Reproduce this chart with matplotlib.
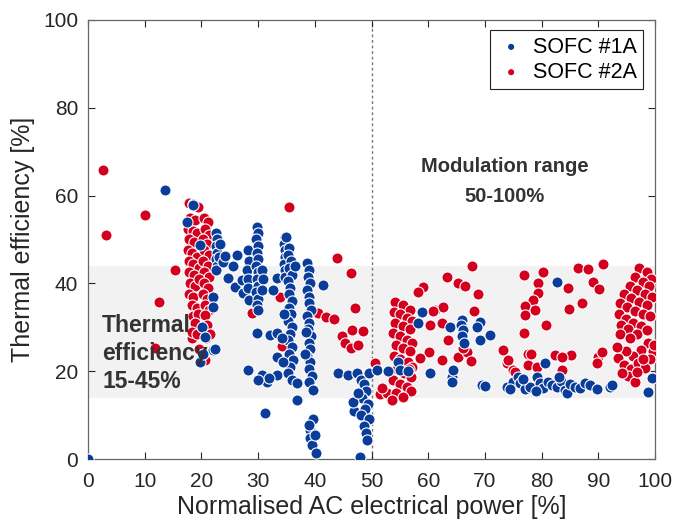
import numpy as np
import matplotlib.pyplot as plt

plt.rcParams["font.family"] = ["Liberation Sans", "DejaVu Sans"]

# ── Data ──────────────────────────────────────────────────────────────────────
# SOFC #1A  (normalised AC power [%], thermal efficiency [%])
sofc_1a = [
    (0, 0), (13.6, 61.2),
    # around 20 %
    (18.5, 57.9), (17.5, 54), (19.8, 48.7), (22, 36.9), (22, 34.6), (20.1, 30),
    (20.6, 27.8), (22, 24.8), (19.8, 22.1), (20.3, 24), (22.4, 25),
    (22.6, 51.5), (22.7, 50), (22.5, 48.5), (22.8, 47), (22.6, 45.5), (22.8, 44),
    (22.5, 43), (23.3, 49), (23.1, 46),
    # 24 - 34 %
    (23.8, 44.9), (26.3, 46.5), (24.7, 41.2), (26, 39.2), (27.2, 40.8), (27.3, 37.8),
    (24.2, 46.2), (25.5, 44),
    (28.2, 47.6), (28.4, 45), (28.1, 43), (28.3, 41), (28.2, 39), (28.4, 36.2),
    (29.8, 52.8), (29.9, 51.5), (29.7, 50), (30, 48.5), (29.8, 47), (29.9, 45.5),
    (29.7, 44), (30, 42.5), (29.8, 41), (29.9, 39.5), (29.7, 38), (30, 36.5),
    (29.8, 35), (29.9, 34),
    (30.7, 43), (30.8, 41), (30.6, 38.5), (32.6, 38.5), (33.3, 41.2),
    (34.7, 50.5), (34.6, 49), (34.8, 47.5), (34.7, 46), (34.5, 44.5), (34.8, 43),
    (34.7, 41.5),
    (29.8, 28.7), (32.1, 28.2), (33.3, 28.7), (33.3, 23.2), (28.2, 20.3), (30.7, 19.1),
    (31.6, 17.5), (33.3, 19.1), (31.2, 10.5), (32, 18.5), (30, 18),
    # 35 - 40 %
    (35, 50.6), (35.5, 48), (35.2, 46.5), (35.8, 45), (35.4, 43.5), (36, 42),
    (35.3, 40.5), (35.7, 39), (35.4, 37.5), (36, 36), (35.5, 34.5), (35.8, 33),
    (35.3, 31.5), (36, 30), (35.6, 28.5), (35.2, 27), (35.9, 25.5), (35.4, 24),
    (36.2, 22.5), (35.7, 21), (35.3, 19.5), (36, 18), (36.8, 17.3), (34.2, 27.5),
    (34.4, 22), (36.8, 13.4), (34.6, 33), (36.5, 44),
    (38.6, 44.6), (39, 43), (38.8, 41.5), (39.2, 40), (38.7, 38.5), (39, 37),
    (38.9, 35.5), (39.3, 34), (38.7, 32.5), (39, 31), (38.8, 29.5), (39.4, 28),
    (38.9, 26.5), (39.1, 25), (38.6, 23.5), (39.2, 22), (38.9, 20.5), (39.5, 19),
    (39, 17.5), (39.7, 15.7), (38.2, 24), (38.4, 29),
    (41.5, 39.6), (44.1, 19.6), (45.9, 19.1),
    (39.7, 9.1), (39.2, 6.6), (39.2, 4.8), (39.5, 3.2), (40.2, 1.4), (39, 7.8), (40, 5.5),
    # 47 - 50 %
    (47.5, 19.6), (48.2, 18), (48.7, 17), (49, 15.5), (48.4, 14), (49.3, 12.5),
    (47, 11), (48.8, 11.5), (48.1, 10), (49.5, 9), (48.6, 7.5), (49, 6), (49.2, 4.3),
    (46.8, 13), (47.6, 15), (49.6, 19.5), (48, 0.5),
    # modulation range
    (51, 20.3), (52.9, 20), (54.7, 22), (55, 20.3), (56.4, 20), (58.9, 33.5),
    (58.2, 31), (60.3, 19.6), (64.2, 18.7), (64.4, 20.3), (64.2, 17.5), (63.8, 30),
    (66, 31.7), (65.8, 30.5), (66.2, 29.3), (65.9, 28), (66.3, 26.5), (69.1, 31.2),
    (69.1, 27), (70.9, 28.2), (68.6, 30), (69.5, 16.9), (70, 16.6), (73.9, 16.4),
    (75, 17.5), (75.8, 18.7), (76.2, 17.3), (77, 16), (78, 16.4), (79.2, 18.7),
    (79.7, 17.3), (80.6, 21.9), (80.3, 16.2), (81.2, 17.5), (81.8, 16.8), (82.7, 16.4),
    (82.7, 40.3), (83.5, 17.8), (84.1, 15.7), (84.5, 15), (85, 17), (85.8, 16.5),
    (86.8, 16.2), (87.6, 17.2), (88.5, 16.9), (89.8, 15.9), (92, 16.4), (92.4, 16.9),
    (99.5, 18.5), (98.8, 15.3), (74.5, 16), (76.8, 18.2), (83, 18.6), (79, 15.6),
]

# SOFC #2A
sofc_2a = [
    (2.6, 65.8), (3.2, 51), (10, 55.6), (15.4, 43), (12.6, 35.8), (11.8, 25.3),
    # around 20 %
    (17.8, 58.3), (18.6, 58), (19.4, 57.5), (18, 55), (18.9, 54.5), (20.4, 55),
    (21.2, 54), (17.6, 52.5), (18.5, 52), (19.2, 51.5), (20.6, 52.3), (21.3, 51),
    (17.9, 50), (18.7, 49.5), (20.3, 50), (21, 49), (17.7, 47.5), (18.4, 47),
    (19.3, 46), (20.5, 47.5), (21.4, 46.5), (17.9, 45), (18.6, 44.5), (19.5, 43.6),
    (20.2, 45), (21.1, 44), (17.8, 42.5), (18.7, 42), (20.4, 42.5), (21.3, 41.5),
    (18, 40), (18.9, 39.5), (19.6, 41), (20.5, 40), (21.2, 39), (17.9, 37.5),
    (18.6, 37), (20.3, 37.5), (21, 36.5), (18.3, 35), (19.2, 34.5), (20.6, 35),
    (21.4, 34), (18.5, 32.5), (19.4, 33), (20.6, 32.8), (18.9, 31), (21, 30.5),
    (18.3, 27.5), (18.3, 29), (20.8, 27.5), (19.6, 25), (20.7, 22.5), (19.2, 28.5),
    (21.5, 28.5),
    # 28 - 52 %
    (28.9, 33.3), (35.4, 57.4), (43.9, 45.8), (46.4, 42.4), (47.1, 34.4), (33.9, 36.9),
    (40.6, 33.3), (42, 32.3), (43.4, 31.9), (44.8, 28), (46.6, 29.4), (48.5, 29.2),
    (45.3, 26.4), (46.4, 25.3), (47.6, 26), (34.2, 25.7), (50.6, 21.9), (51.5, 14.8),
    (52.7, 15), (51.9, 16.2),
    # 53 - 58 %
    (54.1, 35.8), (55.6, 35), (56.8, 34), (53.9, 33.5), (55, 33), (56.3, 32.2),
    (57.2, 31.5), (54.2, 31), (55.5, 30.3), (56.7, 29.5), (53.8, 28.8), (55, 28),
    (56.2, 27.2), (57.1, 26.5), (54.3, 26), (55.6, 25.2), (56.8, 24.5), (53.9, 23.5),
    (55.1, 22.8), (56.4, 22), (57.2, 21), (54.5, 20.5), (55.8, 19.5), (56.9, 18.6),
    (53.8, 18), (55, 17), (56.2, 16.3), (57, 15.5), (54.4, 15), (55.6, 14.2),
    (53.6, 13.5), (56.6, 20.5),
    # 58 - 76 %
    (61.2, 34), (62.6, 34.6), (60.3, 30.5), (62.4, 31), (60.1, 24.4), (62.4, 22.6),
    (58.6, 23), (59.1, 39.2), (58.2, 38), (60.8, 33.7), (63.3, 41.5), (65.3, 40),
    (66.5, 39.4), (68.8, 37.6), (67.7, 44), (63.5, 27.1), (65.3, 23.2), (66.8, 24.4),
    (67.5, 22.3), (68.1, 33.7), (73.2, 24.8), (73.9, 21.9), (75, 20.3), (75.3, 19.8),
    (66.1, 25.3),
    # 76 - 92 %
    (76.9, 41.9), (80.2, 42.6), (79.4, 40.1), (79.4, 37.8), (78.5, 36.2), (77, 34.9),
    (77, 32.8), (78.8, 33.9), (80.8, 30.5), (76.9, 28.7), (77.6, 23.9), (78.2, 23.9),
    (77.6, 21.4), (79.2, 21), (82.4, 23.7), (83.6, 20.3), (85.2, 23.7), (83.6, 23.2),
    (86.4, 43.5), (88.2, 43.3), (90.8, 44.4), (89.1, 40.3), (90.1, 38.7), (84.7, 39),
    (87.1, 35.5), (84.8, 34.2), (90, 23.2), (89.8, 21.9), (90.6, 24.4), (74, 22.5),
    # 93 - 100 %
    (97.2, 43.5), (98.5, 42.5), (99.3, 41), (96.5, 41.5), (97.8, 40.3), (99, 39.3),
    (95.5, 39.5), (96.8, 38.5), (98.2, 37.5), (99.5, 36.8), (94.5, 37.5), (95.8, 36.6),
    (97.2, 35.8), (98.6, 35), (93.8, 35.5), (95, 34.6), (96.4, 33.8), (97.8, 33),
    (99.2, 32.5), (93.6, 33), (94.8, 32), (96.1, 31), (97.5, 30.3), (94, 30.5),
    (95.3, 29.6), (96.8, 28.5), (98.5, 29.4), (93.8, 28.5), (95.5, 27.5),
    (98.8, 26.5), (99.7, 24.5), (99.2, 22.8), (97.5, 24.8), (96.2, 23.5), (94.8, 24.5),
    (93.5, 23), (94.5, 21.5), (95.8, 20.5), (97, 21.8), (98.3, 20.8), (95.2, 18.8),
    (96.5, 17.5), (94.2, 19.5), (93.3, 25.5), (99.9, 26), (97.8, 22.8), (96.8, 19.8),
]

x_ticks = [0, 10, 20, 30, 40, 50, 60, 70, 80, 90, 100]
y_ticks = [0, 20, 40, 60, 80, 100]
band = (14, 44)          # thermal efficiency band [%]
modulation_start = 50    # [%]

BLUE = "#0a3c9a"
RED = "#d2001e"
TXT = "#333333"

# ── Plot ──────────────────────────────────────────────────────────────────────
fig = plt.figure(figsize=(6.89, 5.19), dpi=100)
ax = fig.add_axes([0.1277, 0.1156, 0.8230, 0.8459])

ax.axhspan(band[0], band[1], color="#f2f2f2", zorder=0, lw=0)
ax.axvline(modulation_start, color="#777777", ls=(0, (2, 2)), lw=1, zorder=1)

x1, y1 = np.array(sofc_1a).T
x2, y2 = np.array(sofc_2a).T
kw = dict(s=64, edgecolors="white", linewidths=0.8, zorder=3)
h2 = ax.scatter(x2, y2, color=RED, label="SOFC #2A", **kw)
h1 = ax.scatter(x1, y1, color=BLUE, label="SOFC #1A", **kw)

ax.text(73.5, 63.2, "Modulation range\n50-100%", ha="center", va="center",
        fontsize=14.5, fontweight="bold", color=TXT, linespacing=1.75, zorder=4)
ax.text(2.5, 24.1, "Thermal\nefficiency\n15-45%", ha="left", va="center",
        fontsize=16.5, fontweight="bold", color=TXT, linespacing=1.27, zorder=4)

ax.set_xlim(0, 100)
ax.set_ylim(0, 100)
ax.set_xticks(x_ticks)
ax.set_yticks(y_ticks)
ax.tick_params(direction="in", top=True, right=True, length=5, width=0.8,
               labelsize=15, colors="#262626")
ax.tick_params(axis="x", pad=9)
ax.tick_params(axis="y", pad=7)
for sp in ax.spines.values():
    sp.set_color("#666666")
    sp.set_linewidth(0.9)

ax.set_xlabel("Normalised AC electrical power [%]", fontsize=18, color="#262626", labelpad=3)
ax.set_ylabel("Thermal efficiency [%]", fontsize=18, color="#262626", labelpad=6)

leg = ax.legend(handles=[h1, h2], loc="upper right", fontsize=15.5, frameon=True,
                fancybox=False, edgecolor="#222222", framealpha=1, markerscale=0.55,
                handletextpad=0.3, borderpad=0.3, labelspacing=0.2, handlelength=1.4,
                borderaxespad=0, bbox_to_anchor=(0.979, 0.977))
leg.get_frame().set_linewidth(0.8)
for h in leg.legend_handles:
    h.set_edgecolor("none")

plt.savefig("out.png", dpi=100)
